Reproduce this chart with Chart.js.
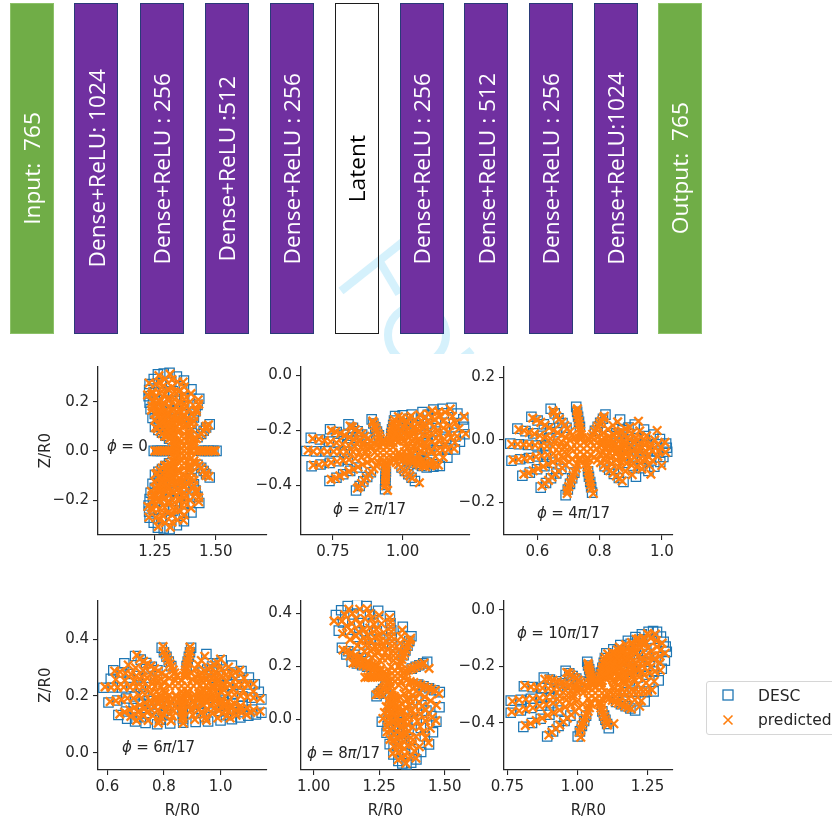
<!DOCTYPE html>
<html>
<head>
<meta charset="utf-8">
<title>Autoencoder and flux surfaces</title>
<script src="https://cdn.jsdelivr.net/npm/chart.js@4/dist/chart.umd.min.js"></script>
<style>
  html, body { margin: 0; padding: 0; background: #fff; width: 832px; height: 823px; overflow: hidden; }
  body { position: relative; font-family: "DejaVu Sans", sans-serif; color: #262626; }
  canvas { position: absolute; filter: blur(0.35px); }
  #mark { position: absolute; left: 0; top: 0; }
  .layer {
    position: absolute; top: 3px; height: 331px; width: 44px; box-sizing: border-box;
    display: flex; align-items: center; justify-content: center;
    color: #fff; font: 22.7px "Open Sans", sans-serif; white-space: pre;
    background: #7030a0; border: 1.3px solid #2a3a78; filter: blur(0.3px);
  }
  .layer span { writing-mode: vertical-rl; transform: rotate(180deg); }
  .layer.io { background: #70ad47; border-color: #8cc168; }
  .layer.latent { background: transparent; border: 1.5px solid #1c1c1c; color: #000; }
  .note { position: absolute; font-size: 15px; white-space: nowrap; transform: translateY(-50%); letter-spacing: -0.2px; filter: blur(0.25px); }
  #legend {
    position: absolute; left: 706px; top: 681px; width: 140px; height: 54px; box-sizing: border-box;
    background: #fff; border: 1px solid #d6d6d6; border-radius: 3px; font-size: 15.5px; filter: blur(0.25px);
  }
  #legend svg { position: absolute; left: 14px; width: 14px; height: 14px; }
  #legend span { position: absolute; left: 51px; line-height: 18px; }
</style>
</head>
<body>
<svg id="mark" width="832" height="354">
  <g fill="none" stroke="#d5f1fc" stroke-width="8">
    <path d="M341 291 L404 241"/>
    <path d="M380 262 L399 294"/>
    <circle cx="417" cy="335" r="29"/>
    <path d="M462 358 L472 350"/>
  </g>
</svg>
<div class="layer io" style="left:9.5px"><span>Input:  765</span></div>
<div class="layer" style="left:74px"><span>Dense+ReLU: 1024</span></div>
<div class="layer" style="left:139.5px"><span>Dense+ReLU : 256</span></div>
<div class="layer" style="left:204.5px"><span>Dense+ReLU :512</span></div>
<div class="layer" style="left:269.5px"><span>Dense+ReLU : 256</span></div>
<div class="layer latent" style="left:334.5px"><span>Latent</span></div>
<div class="layer" style="left:399.5px"><span>Dense+ReLU : 256</span></div>
<div class="layer" style="left:464px"><span>Dense+ReLU : 512</span></div>
<div class="layer" style="left:528.5px"><span>Dense+ReLU : 256</span></div>
<div class="layer" style="left:593.5px"><span>Dense+ReLU:1024</span></div>
<div class="layer io" style="left:657.5px"><span>Output:  765</span></div>

<div class="note" style="left:107px;top:446px"><i>ϕ</i> = 0</div>
<div class="note" style="left:333px;top:509px"><i>ϕ</i> = 2<i>π</i>/17</div>
<div class="note" style="left:537px;top:513px"><i>ϕ</i> = 4<i>π</i>/17</div>
<div class="note" style="left:122px;top:747px"><i>ϕ</i> = 6<i>π</i>/17</div>
<div class="note" style="left:307px;top:753px"><i>ϕ</i> = 8<i>π</i>/17</div>
<div class="note" style="left:517px;top:633px"><i>ϕ</i> = 10<i>π</i>/17</div>

<div id="legend">
  <svg style="top:6px" viewBox="0 0 14 14"><rect x="2" y="2" width="10" height="10" fill="none" stroke="#1f77b4" stroke-width="1.3"/></svg>
  <span style="top:5px">DESC</span>
  <svg style="top:31px" viewBox="0 0 14 14"><path d="M2.5 2.5 L11.5 11.5 M11.5 2.5 L2.5 11.5" stroke="#ff7f0e" stroke-width="1.6"/></svg>
  <span style="top:29px">predicted</span>
</div>

<script>
// phi = 0
const descR0 = [
  1.503,1.49,1.47,1.455,1.44, 1.475,1.46,1.45,1.44,1.425, 1.432,1.425,1.417,1.41,1.40, 1.369,1.369,1.37,1.37,1.37,
  1.31,1.317,1.324,1.332,1.339, 1.262,1.275,1.288,1.30,1.314, 1.228,1.245,1.262,1.279,1.296, 1.224,1.242,1.259,1.277,1.294,
  1.232,1.249,1.265,1.282,1.298, 1.25,1.264,1.279,1.293,1.308, 1.245,1.26,1.275,1.29,1.305,
  1.475,1.46,1.45,1.44,1.425, 1.432,1.425,1.417,1.41,1.40, 1.369,1.369,1.37,1.37,1.37,
  1.31,1.317,1.324,1.332,1.339, 1.262,1.275,1.288,1.30,1.314, 1.228,1.245,1.262,1.279,1.296, 1.224,1.242,1.259,1.277,1.294,
  1.232,1.249,1.265,1.282,1.298, 1.25,1.264,1.279,1.293,1.308,
  1.40,1.34,1.286,1.245,1.226,1.228,1.24, 1.40,1.34,1.286,1.245,1.226,1.228,1.24,
];
const descZ0 = [
  0,0,0,0,0, .108,.095,.082,.069,.056, .212,.187,.161,.136,.11, .286,.252,.217,.183,.149,
  .318,.28,.242,.204,.165, .312,.275,.237,.20,.162, .272,.239,.207,.174,.141, .222,.195,.169,.142,.115,
  .17,.15,.129,.109,.088, .097,.085,.074,.062,.05, 0,0,0,0,0,
  -.108,-.095,-.082,-.069,-.056, -.212,-.187,-.161,-.136,-.11, -.286,-.252,-.217,-.183,-.149,
  -.318,-.28,-.242,-.204,-.165, -.312,-.275,-.237,-.20,-.162, -.272,-.239,-.207,-.174,-.141, -.222,-.195,-.169,-.142,-.115,
  -.17,-.15,-.129,-.109,-.088, -.097,-.085,-.074,-.062,-.05,
  .25,.302,.315,.292,.247,.196,.134, -.25,-.302,-.315,-.292,-.247,-.196,-.134,
];
const predR0 = [
  1.497,1.49,1.48,1.47,1.46,1.45,1.44,1.43,1.42,1.40, 1.47,1.46,1.46,1.45,1.44,1.43,1.42,1.41,1.41,1.40,
  1.428,1.43,1.42,1.42,1.41,1.41,1.40,1.40,1.39,1.39, 1.366,1.37,1.37,1.37,1.37,1.37,1.37,1.37,1.37,1.37,
  1.312,1.32,1.32,1.33,1.33,1.34,1.34,1.35,1.35,1.35, 1.266,1.27,1.28,1.29,1.30,1.31,1.32,1.32,1.33,1.34,
  1.226,1.24,1.25,1.27,1.28,1.29,1.30,1.31,1.32,1.33, 1.22,1.24,1.25,1.26,1.27,1.29,1.30,1.31,1.32,1.33,
  1.236,1.25,1.26,1.27,1.28,1.29,1.30,1.31,1.32,1.33, 1.252,1.26,1.27,1.28,1.29,1.30,1.31,1.32,1.33,1.34,
  1.25,1.26,1.27,1.28,1.29,1.30,1.31,1.32,1.33,1.34,
  1.472,1.46,1.46,1.45,1.44,1.43,1.42,1.41,1.41,1.40, 1.43,1.43,1.42,1.42,1.41,1.41,1.40,1.40,1.39,1.39,
  1.367,1.37,1.37,1.37,1.37,1.37,1.37,1.37,1.37,1.37, 1.313,1.32,1.32,1.33,1.33,1.34,1.34,1.35,1.35,1.35,
  1.263,1.27,1.28,1.29,1.30,1.31,1.32,1.32,1.33,1.34, 1.225,1.24,1.25,1.27,1.28,1.29,1.30,1.31,1.32,1.33,
  1.221,1.24,1.25,1.26,1.27,1.29,1.30,1.31,1.32,1.33, 1.235,1.25,1.26,1.27,1.28,1.29,1.30,1.31,1.32,1.33,
  1.253,1.26,1.27,1.28,1.29,1.30,1.31,1.32,1.33,1.34,
  1.37,1.35,1.39,1.37,1.37,1.35,1.39,1.35,1.39,1.33,1.41,1.36,1.38,1.36,1.38,
  1.398,1.394,1.39,1.386,1.382, 1.342,1.346,1.35,1.354,1.358, 1.292,1.303,1.314,1.325,1.336, 1.254,1.27,1.286,1.303,1.319,
  1.236,1.255,1.274,1.292,1.311, 1.238,1.256,1.275,1.293,1.312, 1.249,1.266,1.283,1.30,1.317,
  1.398,1.394,1.39,1.386,1.382, 1.342,1.346,1.35,1.354,1.358, 1.292,1.303,1.314,1.325,1.336, 1.254,1.27,1.286,1.303,1.319,
  1.236,1.255,1.274,1.292,1.311, 1.238,1.256,1.275,1.293,1.312, 1.249,1.266,1.283,1.30,1.317,
];
const predZ0 = [
  0,0,0,0,0,0,0,0,0,0, .106,.10,.09,.08,.07,.06,.05,.05,.04,.03,
  .208,.19,.17,.16,.14,.12,.11,.09,.07,.06, .28,.26,.23,.21,.19,.17,.14,.12,.10,.07,
  .312,.29,.26,.24,.21,.18,.16,.13,.11,.08, .306,.28,.26,.23,.21,.18,.16,.13,.11,.08,
  .276,.24,.22,.20,.18,.16,.14,.11,.09,.07, .228,.20,.18,.16,.15,.13,.11,.09,.08,.06,
  .166,.15,.14,.13,.11,.10,.09,.07,.06,.04, .095,.09,.08,.07,.06,.06,.05,.04,.03,.03,
  0,0,0,0,0,0,0,0,0,0,
  -.104,-.10,-.09,-.08,-.07,-.06,-.05,-.05,-.04,-.03, -.207,-.19,-.17,-.16,-.14,-.12,-.11,-.09,-.07,-.06,
  -.282,-.26,-.23,-.21,-.19,-.17,-.14,-.12,-.10,-.07, -.31,-.29,-.26,-.24,-.21,-.18,-.16,-.13,-.11,-.08,
  -.308,-.28,-.26,-.23,-.21,-.18,-.16,-.13,-.11,-.08, -.27,-.24,-.22,-.20,-.18,-.16,-.14,-.11,-.09,-.07,
  -.226,-.20,-.18,-.16,-.15,-.13,-.11,-.09,-.08,-.06, -.164,-.15,-.14,-.13,-.11,-.10,-.09,-.07,-.06,-.04,
  -.094,-.09,-.08,-.07,-.06,-.06,-.05,-.04,-.03,-.03,
  0,0,0,.02,-.02,.02,.02,-.02,-.02,.03,.03,-.04,-.04,.04,.04,
  .233,.20,.168,.135,.103, .281,.242,.202,.163,.124, .293,.252,.211,.17,.129, .272,.234,.196,.158,.12,
  .23,.198,.165,.133,.101, .182,.157,.131,.106,.08, .125,.107,.09,.072,.055,
  -.233,-.20,-.168,-.135,-.103, -.281,-.242,-.202,-.163,-.124, -.293,-.252,-.211,-.17,-.129, -.272,-.234,-.196,-.158,-.12,
  -.23,-.198,-.165,-.133,-.101, -.182,-.157,-.131,-.106,-.08, -.125,-.107,-.09,-.072,-.055,
];

// phi = 2pi/17
const descR1 = [
  .655,.69,.724,.759,.793, .671,.704,.736,.769,.802, .674,.706,.739,.771,.803, .738,.763,.787,.812,.836,
  .74,.764,.789,.813,.837, .806,.822,.839,.855,.872, .833,.846,.859,.873,.886, .889,.895,.902,.908,.915,
  .937,.938,.938,.939,.94, .973,.969,.966,.962,.959, 1.044,1.032,1.02,1.008,.996, 1.032,1.021,1.011,1.0,.989,
  1.11,1.09,1.07,1.05,1.03, 1.175,1.147,1.119,1.091,1.064, 1.217,1.184,1.151,1.118,1.085, 1.223,1.189,1.156,1.122,1.089,
  1.187,1.158,1.128,1.099,1.07, 1.133,1.11,1.087,1.065,1.042, 1.086,1.069,1.052,1.035,1.017,
  1.071,1.143,1.196,1.22,1.205,1.16,1.11,1.0,
];
const descZ1 = [
  -.275,-.276,-.276,-.277,-.278, -.227,-.233,-.24,-.246,-.253, -.33,-.324,-.318,-.312,-.306, -.384,-.372,-.359,-.347,-.335,
  -.196,-.206,-.216,-.227,-.237, -.178,-.19,-.203,-.215,-.227, -.418,-.402,-.385,-.369,-.352, -.16,-.175,-.189,-.204,-.218,
  -.414,-.398,-.382,-.366,-.35, -.148,-.164,-.18,-.196,-.212, -.384,-.372,-.359,-.347,-.335, -.142,-.159,-.175,-.192,-.209,
  -.124,-.143,-.162,-.181,-.199, -.118,-.138,-.157,-.177,-.196, -.16,-.175,-.189,-.204,-.218, -.214,-.222,-.23,-.238,-.246,
  -.269,-.27,-.272,-.273,-.275, -.329,-.323,-.317,-.312,-.306, -.335,-.329,-.322,-.316,-.309,
  -.133,-.121,-.139,-.187,-.241,-.299,-.332,-.145,
];
const predR1 = [
  .662,.68,.707,.73,.753,.776,.799,.822,.845,.868, .678,.70,.72,.742,.763,.785,.807,.829,.85,.872,
  .68,.70,.722,.744,.765,.787,.808,.83,.852,.873, .744,.76,.775,.791,.808,.824,.84,.857,.873,.89,
  .745,.76,.777,.793,.809,.825,.842,.858,.874,.89, .812,.82,.83,.842,.853,.864,.875,.885,.896,.907,
  .838,.844,.853,.862,.87,.879,.888,.897,.906,.914, .893,.894,.899,.903,.907,.912,.916,.92,.925,.929,
  .946,.938,.938,.939,.939,.94,.94,.94,.941,.941, .985,.97,.968,.965,.963,.96,.958,.956,.953,.951,
  1.06,1.034,1.026,1.018,1.01,1.002,.994,.985,.977,.969, 1.03,1.023,1.016,1.009,1.002,.995,.987,.98,.973,.966,
  1.106,1.093,1.08,1.067,1.053,1.04,1.027,1.013,1.0,.986, 1.17,1.152,1.133,1.115,1.096,1.078,1.059,1.04,1.022,1.003,
  1.22,1.19,1.168,1.146,1.124,1.102,1.08,1.058,1.036,1.014, 1.226,1.195,1.173,1.15,1.128,1.105,1.083,1.06,1.038,1.016,
  1.184,1.163,1.143,1.124,1.104,1.085,1.065,1.045,1.026,1.006, 1.128,1.114,1.099,1.084,1.068,1.053,1.038,1.023,1.008,.992,
  1.082,1.072,1.06,1.049,1.037,1.026,1.015,1.003,.992,.98,
  .943,.92,.966,.943,.943,.92,.966,.92,.966,.90,.986,.93,.955,.93,.955,
  1.062,1.045,1.029,1.012,.995, 1.129,1.103,1.077,1.051,1.025, 1.178,1.145,1.113,1.08,1.047, 1.201,1.165,1.129,1.093,1.057,
  1.187,1.153,1.119,1.084,1.05, 1.145,1.117,1.088,1.06,1.032, 1.098,1.077,1.055,1.033,1.011, .996,.989,.981,.974,.966,
];
const predZ1 = [
  -.272,-.276,-.276,-.277,-.277,-.277,-.278,-.278,-.279,-.279, -.23,-.232,-.237,-.241,-.245,-.25,-.254,-.258,-.262,-.267,
  -.326,-.325,-.321,-.317,-.313,-.309,-.306,-.302,-.298,-.294, -.378,-.374,-.365,-.357,-.349,-.341,-.333,-.324,-.316,-.308,
  -.20,-.205,-.211,-.218,-.225,-.232,-.238,-.245,-.252,-.259, -.184,-.188,-.197,-.205,-.213,-.221,-.23,-.238,-.246,-.254,
  -.41,-.404,-.393,-.382,-.371,-.36,-.35,-.339,-.328,-.317, -.166,-.172,-.182,-.191,-.201,-.211,-.22,-.23,-.24,-.25,
  -.418,-.401,-.39,-.38,-.369,-.358,-.348,-.337,-.326,-.316, -.15,-.161,-.172,-.182,-.193,-.204,-.214,-.225,-.236,-.246,
  -.39,-.374,-.365,-.357,-.349,-.341,-.333,-.324,-.316,-.308, -.148,-.156,-.167,-.178,-.189,-.2,-.212,-.223,-.234,-.245,
  -.128,-.14,-.152,-.165,-.177,-.19,-.202,-.215,-.228,-.24, -.122,-.134,-.147,-.16,-.173,-.187,-.2,-.213,-.226,-.239,
  -.15,-.172,-.182,-.191,-.201,-.211,-.22,-.23,-.24,-.25, -.212,-.221,-.226,-.231,-.237,-.242,-.248,-.253,-.258,-.264,
  -.266,-.27,-.271,-.272,-.273,-.274,-.275,-.276,-.277,-.278, -.326,-.324,-.32,-.316,-.313,-.309,-.305,-.301,-.297,-.293,
  -.332,-.33,-.325,-.321,-.317,-.312,-.308,-.304,-.299,-.295,
  -.281,-.281,-.281,-.26,-.30,-.26,-.26,-.30,-.30,-.28,-.28,-.245,-.245,-.315,-.315,
  -.143,-.163,-.182,-.201,-.22, -.132,-.153,-.174,-.195,-.215, -.149,-.167,-.186,-.204,-.223, -.194,-.206,-.218,-.23,-.242,
  -.244,-.249,-.254,-.259,-.265, -.298,-.295,-.293,-.291,-.288, -.328,-.322,-.315,-.309,-.302, -.155,-.172,-.19,-.208,-.225,
];

// phi = 4pi/17
const descR2 = [
  .513,.541,.57,.598,.626, .517,.545,.573,.601,.628, .536,.562,.587,.613,.638, .581,.601,.621,.641,.662,
  .552,.576,.599,.623,.647, .611,.628,.644,.661,.677, .643,.656,.668,.681,.694, .725,.728,.731,.734,.737,
  .691,.698,.705,.712,.719, .776,.773,.77,.766,.763, .819,.811,.802,.794,.785, .877,.862,.846,.831,.816,
  .913,.893,.874,.854,.834, .957,.932,.907,.882,.857, .973,.946,.919,.892,.865, .995,.965,.936,.906,.877,
  1.014,.982,.95,.919,.887, 1.018,.986,.953,.921,.889,
  .866,.943,.994,1.005,.976,.917,1.016,
];
const descZ2 = [
  -.012,-.014,-.016,-.018,-.02, -.067,-.062,-.058,-.053,-.048, .036,.028,.021,.013,.005, .074,.062,.05,.037,.025,
  -.115,-.105,-.094,-.084,-.073, -.153,-.138,-.123,-.108,-.093, .10,.085,.069,.054,.039, .106,.09,.074,.058,.042,
  -.177,-.159,-.141,-.123,-.105, -.169,-.152,-.135,-.118,-.101, .081,.068,.055,.042,.029, -.135,-.122,-.109,-.096,-.084,
  .049,.04,.031,.021,.012, -.10,-.091,-.083,-.074,-.065, .017,.012,.006,.001,-.005, -.071,-.066,-.061,-.056,-.05,
  -.012,-.014,-.016,-.018,-.02, -.038,-.037,-.036,-.034,-.033,
  .065,.033,.003,-.055,-.086,-.118,-.025,
];
const predR2 = [
  .518,.537,.556,.574,.593,.612,.631,.65,.669,.688, .522,.54,.559,.577,.596,.614,.633,.652,.67,.689,
  .541,.557,.574,.591,.608,.625,.642,.66,.677,.694, .585,.598,.611,.625,.638,.652,.665,.678,.692,.705,
  .557,.572,.587,.603,.619,.635,.65,.666,.682,.698, .615,.625,.636,.647,.658,.669,.68,.691,.702,.713,
  .65,.654,.662,.671,.679,.688,.696,.705,.713,.721, .729,.727,.729,.731,.733,.735,.737,.739,.741,.743,
  .696,.697,.701,.706,.711,.715,.72,.725,.729,.734, .78,.773,.771,.769,.767,.765,.763,.76,.758,.756,
  .815,.812,.806,.801,.795,.79,.784,.778,.773,.767, .873,.864,.854,.844,.833,.823,.813,.803,.793,.782,
  .925,.897,.883,.87,.857,.844,.831,.818,.805,.792, .965,.936,.92,.903,.886,.87,.853,.836,.82,.803,
  .985,.951,.933,.915,.897,.879,.861,.843,.825,.807, 1.0,.97,.951,.931,.911,.892,.872,.852,.833,.813,
  1.01,.987,.966,.945,.924,.903,.882,.86,.839,.818, 1.012,.991,.97,.948,.926,.905,.883,.862,.84,.819,
  .749,.727,.771,.749,.749,.727,.771,.727,.771,.71,.79,.735,.765,.735,.765,
  .858,.843,.827,.812,.797, .929,.904,.879,.854,.829, .977,.945,.913,.881,.849, .987,.954,.921,.887,.854,
  .96,.931,.901,.872,.842, .905,.883,.862,.84,.818, .997,.963,.928,.893,.858,
];
const predZ2 = [
  -.014,-.014,-.015,-.016,-.017,-.019,-.02,-.021,-.023,-.024, -.064,-.063,-.06,-.057,-.054,-.051,-.048,-.044,-.041,-.038,
  .033,.03,.024,.019,.014,.009,.004,-.001,-.006,-.011, .07,.064,.056,.047,.039,.031,.023,.015,.007,-.001,
  -.11,-.106,-.099,-.092,-.085,-.078,-.071,-.065,-.058,-.051, -.148,-.14,-.13,-.12,-.11,-.1,-.09,-.08,-.07,-.061,
  .094,.087,.077,.067,.056,.046,.036,.026,.016,.005, .10,.093,.082,.071,.06,.05,.039,.028,.017,.007,
  -.172,-.162,-.15,-.138,-.126,-.114,-.103,-.091,-.079,-.067, -.172,-.155,-.144,-.132,-.121,-.11,-.099,-.087,-.076,-.065,
  .076,.07,.061,.053,.044,.035,.027,.018,.009,0, -.132,-.124,-.116,-.107,-.099,-.09,-.082,-.073,-.064,-.056,
  .06,.041,.035,.029,.023,.017,.011,.004,-.002,-.008, -.11,-.093,-.087,-.081,-.075,-.07,-.064,-.058,-.052,-.047,
  .03,.013,.009,.005,.002,-.002,-.006,-.009,-.013,-.016, -.082,-.067,-.063,-.06,-.056,-.053,-.05,-.046,-.043,-.039,
  -.008,-.014,-.015,-.016,-.017,-.019,-.02,-.021,-.023,-.024, -.04,-.037,-.036,-.035,-.035,-.034,-.033,-.032,-.031,-.031,
  -.028,-.028,-.028,-.008,-.048,-.008,-.008,-.048,-.048,-.028,-.028,.005,.005,-.06,-.06,
  .058,.046,.034,.022,.01, .029,.021,.013,.005,-.003, 0,-.003,-.007,-.011,-.015, -.053,-.05,-.046,-.043,-.039,
  -.082,-.074,-.067,-.059,-.052, -.112,-.10,-.088,-.077,-.065, -.025,-.026,-.026,-.026,-.027,
];

// phi = 6pi/17
const descR3 = [
  .586,.619,.652,.685,.718, .604,.635,.666,.697,.728, .639,.666,.693,.719,.746, .621,.65,.679,.708,.737,
  .698,.718,.737,.757,.777, .698,.718,.737,.757,.777, .776,.786,.797,.807,.817, .792,.80,.809,.817,.826,
  .868,.867,.867,.866,.865, .896,.892,.888,.884,.88, .956,.945,.933,.922,.911, 1.004,.987,.97,.953,.936,
  1.04,1.019,.997,.976,.955, 1.074,1.049,1.023,.998,.972, 1.098,1.07,1.041,1.013,.985, 1.121,1.09,1.059,1.028,.997,
  1.145,1.111,1.077,1.043,1.009, 1.145,1.111,1.077,1.043,1.009,
  .95,1.04,1.10,1.135,1.125,1.07,1.0,.67,.735,.822,.912,.66,.612,
];
const descZ3 = [
  .229,.23,.23,.231,.232, .177,.184,.191,.198,.205, .133,.145,.157,.170,.182, .29,.283,.277,.27,.264,
  .341,.328,.316,.303,.29, .11,.125,.14,.155,.17, .10,.116,.132,.149,.165, .37,.354,.338,.321,.305,
  .106,.121,.137,.152,.168, .37,.354,.338,.321,.305, .11,.125,.14,.155,.17, .326,.315,.304,.293,.282,
  .118,.132,.146,.160,.174, .288,.282,.275,.269,.263, .13,.143,.155,.168,.18, .241,.24,.24,.239,.238,
  .188,.194,.199,.205,.211, .141,.152,.164,.175,.186,
  .348,.307,.265,.215,.135,.124,.114,.12,.105,.103,.108,.315,.26,
];
const predR3 = [
  .592,.613,.636,.658,.68,.702,.724,.746,.768,.79, .61,.63,.65,.671,.692,.712,.733,.754,.774,.795,
  .644,.661,.679,.697,.715,.733,.751,.768,.786,.804, .626,.645,.664,.684,.703,.722,.741,.761,.78,.799,
  .704,.714,.728,.741,.754,.767,.78,.793,.806,.819, .703,.714,.728,.741,.754,.767,.78,.793,.806,.819,
  .78,.785,.791,.798,.805,.812,.819,.826,.833,.84, .797,.799,.805,.81,.816,.821,.827,.833,.838,.844,
  .868,.867,.867,.866,.866,.865,.865,.865,.864,.864, .892,.893,.89,.887,.884,.882,.879,.876,.874,.871,
  .95,.947,.939,.932,.924,.917,.909,.902,.894,.886, 1.0,.99,.978,.967,.956,.944,.933,.922,.91,.899,
  1.034,1.022,1.008,.994,.979,.965,.951,.937,.923,.908, 1.068,1.053,1.036,1.019,1.002,.985,.968,.951,.934,.917,
  1.092,1.074,1.056,1.037,1.018,.999,.98,.961,.942,.923, 1.116,1.095,1.074,1.054,1.033,1.012,.992,.971,.95,.929,
  1.14,1.117,1.094,1.071,1.049,1.026,1.004,.981,.958,.936, 1.14,1.117,1.094,1.071,1.049,1.026,1.004,.981,.958,.936,
  .862,.84,.884,.862,.862,.84,.884,.84,.884,.82,.905,.845,.88,.845,.88,
  .944,.932,.921,.91,.898, 1.028,1.004,.981,.958,.935, 1.083,1.052,1.021,.991,.96, 1.116,1.08,1.045,1.009,.974,
  1.107,1.072,1.038,1.004,.97, 1.055,1.028,1.001,.974,.947, .99,.972,.954,.937,.919, .683,.708,.733,.758,.783,
  .744,.76,.777,.793,.81, .825,.83,.835,.84,.846, .909,.902,.896,.889,.883, .674,.70,.727,.753,.779, .63,.662,.695,.727,.76,
];
const predZ3 = [
  .232,.23,.23,.231,.231,.232,.232,.232,.233,.233, .18,.183,.187,.192,.192,.201,.206,.21,.215,.22,
  .136,.143,.151,.16,.168,.176,.184,.192,.2,.208, .288,.285,.28,.276,.271,.267,.263,.258,.254,.249,
  .344,.33,.322,.313,.305,.296,.288,.28,.271,.263, .114,.123,.132,.142,.153,.162,.172,.183,.193,.203,
  .104,.114,.124,.135,.146,.157,.168,.178,.189,.2, .374,.357,.346,.335,.324,.313,.303,.292,.281,.27,
  .104,.119,.129,.14,.15,.16,.171,.181,.191,.201, .372,.357,.346,.335,.324,.313,.303,.292,.281,.27,
  .114,.123,.132,.142,.153,.162,.172,.183,.193,.203, .33,.317,.31,.302,.295,.288,.281,.273,.266,.259,
  .122,.13,.139,.148,.158,.167,.177,.186,.195,.205, .29,.283,.278,.274,.27,.266,.262,.257,.253,.249,
  .134,.14,.149,.157,.166,.174,.183,.191,.199,.208, .242,.24,.24,.239,.239,.238,.238,.238,.237,.237,
  .19,.193,.196,.20,.204,.208,.212,.215,.219,.223, .146,.15,.158,.165,.173,.18,.188,.196,.203,.211,
  .235,.235,.235,.255,.215,.255,.215,.255,.215,.235,.235,.27,.27,.20,.20,
  .34,.325,.311,.296,.281, .302,.293,.283,.274,.265, .263,.259,.255,.251,.247, .216,.219,.222,.224,.227,
  .142,.155,.168,.181,.194, .132,.146,.161,.175,.189, .122,.138,.154,.17,.185, .128,.143,.158,.173,.188,
  .114,.131,.148,.165,.182, .112,.129,.147,.164,.181, .117,.133,.15,.166,.183, .309,.299,.289,.278,.268, .258,.255,.252,.249,.245,
];

// phi = 8pi/17
const descR4 = [
  1.13,1.152,1.173,1.195,1.216, 1.202,1.215,1.228,1.241,1.254, 1.085,1.112,1.139,1.166,1.193, 1.291,1.293,1.296,1.298,1.30,
  1.373,1.365,1.358,1.35,1.343, 1.108,1.132,1.156,1.181,1.205, 1.145,1.165,1.185,1.204,1.224, 1.433,1.418,1.403,1.389,1.374,
  1.481,1.46,1.44,1.419,1.399, 1.24,1.248,1.257,1.265,1.274, 1.468,1.449,1.43,1.411,1.392, 1.278,1.282,1.286,1.29,1.293,
  1.44,1.424,1.409,1.393,1.378, 1.304,1.305,1.305,1.306,1.307, 1.323,1.321,1.32,1.318,1.317, 1.354,1.349,1.343,1.338,1.333,
  1.392,1.382,1.372,1.362,1.353,
  1.166,1.105,1.246,1.096,1.125,1.34,1.455,1.41,1.372,1.338,1.29,1.26,1.48,
];
const descZ4 = [
  .428,.396,.364,.333,.301, .428,.396,.364,.333,.301, .394,.366,.339,.311,.283, .39,.363,.336,.308,.281,
  .314,.296,.278,.26,.242, .27,.257,.244,.231,.219, .217,.211,.204,.198,.191, .217,.211,.204,.198,.191,
  .102,.109,.117,.124,.131, .087,.096,.105,.114,.123, -.01,.011,.032,.052,.073, -.052,-.026,0,.025,.051,
  -.096,-.065,-.034,-.003,.028, -.134,-.098,-.063,-.027,.009, -.159,-.12,-.082,-.043,-.004, -.172,-.132,-.092,-.051,-.011,
  -.153,-.115,-.077,-.039,-.001,
  .435,.412,.41,.335,.245,.35,-.05,-.125,-.165,-.168,-.095,-.01,.045,
];
const predR4 = [
  1.134,1.148,1.162,1.177,1.191,1.206,1.22,1.234,1.249,1.263, 1.204,1.213,1.221,1.23,1.239,1.247,1.256,1.265,1.273,1.282,
  1.078,1.108,1.126,1.143,1.162,1.18,1.198,1.216,1.234,1.252, 1.29,1.293,1.294,1.296,1.297,1.299,1.30,1.302,1.304,1.305,
  1.37,1.367,1.362,1.357,1.352,1.347,1.342,1.336,1.331,1.326, 1.112,1.128,1.144,1.16,1.177,1.193,1.209,1.225,1.241,1.257,
  1.15,1.162,1.175,1.188,1.201,1.214,1.228,1.241,1.254,1.267, 1.196,1.207,1.217,1.226,1.235,1.244,1.253,1.262,1.271,1.28,
  1.44,1.421,1.411,1.401,1.391,1.381,1.372,1.362,1.352,1.342, 1.478,1.464,1.45,1.437,1.423,1.409,1.396,1.382,1.368,1.354,
  1.238,1.247,1.253,1.258,1.264,1.269,1.275,1.281,1.286,1.292, 1.466,1.452,1.44,1.427,1.414,1.402,1.389,1.376,1.364,1.351,
  1.28,1.281,1.284,1.286,1.289,1.291,1.294,1.297,1.299,1.302, 1.438,1.427,1.417,1.406,1.396,1.385,1.375,1.365,1.354,1.344,
  1.302,1.305,1.305,1.306,1.306,1.307,1.307,1.307,1.308,1.308, 1.322,1.322,1.321,1.32,1.319,1.318,1.316,1.315,1.314,1.313,
  1.352,1.35,1.346,1.343,1.339,1.336,1.332,1.328,1.325,1.321, 1.39,1.384,1.376,1.371,1.364,1.358,1.351,1.344,1.338,1.331,
  1.31,1.288,1.332,1.31,1.31,1.288,1.332,1.288,1.332,1.27,1.35,1.295,1.325,1.295,1.325,
  1.176,1.195,1.214,1.232,1.251, 1.119,1.146,1.173,1.199,1.226, 1.25,1.259,1.267,1.275,1.284, 1.111,1.139,1.167,1.194,1.222,
  1.138,1.162,1.186,1.21,1.234, 1.338,1.334,1.33,1.326,1.322, 1.445,1.426,1.407,1.388,1.369, 1.403,1.39,1.377,1.364,1.351,
  1.368,1.36,1.352,1.343,1.335, 1.336,1.332,1.329,1.325,1.321, 1.291,1.294,1.297,1.299,1.302, 1.264,1.27,1.277,1.283,1.29,
  1.468,1.446,1.424,1.402,1.38,
];
const predZ4 = [
  .416,.40,.38,.359,.339,.317,.296,.274,.253,.232, .418,.40,.38,.359,.339,.317,.296,.274,.253,.232,
  .372,.371,.352,.334,.315,.297,.279,.26,.242,.223, .384,.367,.349,.331,.313,.295,.277,.258,.24,.222,
  .306,.299,.287,.275,.263,.251,.239,.226,.214,.202, .262,.259,.251,.242,.234,.225,.217,.208,.199,.191,
  .212,.212,.207,.203,.199,.194,.19,.186,.181,.177, .158,.159,.159,.159,.16,.16,.161,.161,.161,.162,
  .192,.212,.207,.203,.199,.194,.19,.186,.181,.177, .096,.108,.113,.118,.123,.128,.133,.138,.142,.147,
  .092,.095,.101,.107,.113,.119,.125,.131,.137,.143, -.006,.007,.021,.035,.049,.063,.077,.09,.104,.118,
  -.048,-.03,-.013,.004,.021,.038,.056,.073,.09,.107, -.09,-.07,-.049,-.029,-.008,.013,.033,.054,.075,.096,
  -.13,-.104,-.08,-.057,-.033,-.009,.015,.038,.062,.086, -.154,-.127,-.101,-.075,-.049,-.024,.002,.028,.054,.079,
  -.168,-.139,-.112,-.085,-.058,-.031,-.005,.022,.049,.076, -.148,-.121,-.096,-.071,-.046,-.02,.005,.03,.055,.081,
  .163,.163,.163,.183,.143,.183,.143,.143,.183,.163,.163,.198,.128,.128,.198,
  .416,.381,.345,.31,.275, .395,.362,.33,.297,.265, .393,.361,.328,.296,.264, .323,.301,.278,.256,.234,
  .239,.229,.218,.207,.197, .337,.313,.288,.264,.24, -.035,-.007,.02,.048,.076, -.105,-.067,-.03,.007,.045,
  -.142,-.099,-.057,-.014,.029, -.145,-.102,-.059,-.016,.027, -.077,-.043,-.01,.024,.057, .002,.025,.047,.07,.092,
  .053,.069,.084,.099,.115,
];

// phi = 10pi/17
const descR5 = [
  .762,.798,.834,.871,.907, .762,.798,.834,.871,.907, .809,.84,.87,.901,.931, .807,.838,.869,.90,.93,
  .88,.902,.924,.946,.968, .892,.913,.933,.954,.975, .958,.971,.983,.996,1.009, 1.001,1.009,1.016,1.024,1.031,
  1.035,1.038,1.042,1.045,1.049, 1.112,1.106,1.10,1.095,1.089, 1.103,1.098,1.094,1.089,1.084, 1.206,1.189,1.172,1.155,1.138,
  1.153,1.142,1.132,1.121,1.11, 1.272,1.247,1.222,1.197,1.172, 1.207,1.19,1.173,1.156,1.138, 1.254,1.231,1.208,1.186,1.163,
  1.284,1.258,1.231,1.205,1.178, 1.308,1.279,1.249,1.22,1.191, 1.319,1.288,1.258,1.227,1.197, 1.301,1.273,1.244,1.216,1.187,
  1.128,1.18,1.23,1.27,1.298,1.315,1.312,1.29,1.24,
];
const descZ5 = [
  -.322,-.319,-.315,-.312,-.309, -.365,-.357,-.348,-.34,-.331, -.271,-.274,-.277,-.28,-.283, -.415,-.401,-.386,-.372,-.357,
  -.24,-.247,-.253,-.26,-.266, -.449,-.431,-.412,-.394,-.375, -.216,-.225,-.235,-.244,-.254, -.449,-.431,-.412,-.394,-.375,
  -.184,-.197,-.211,-.224,-.237, -.42,-.405,-.39,-.375,-.36, -.154,-.171,-.188,-.205,-.222, -.357,-.35,-.342,-.335,-.327,
  -.125,-.145,-.166,-.186,-.207, -.289,-.29,-.29,-.291,-.292, -.096,-.12,-.144,-.168,-.192, -.078,-.104,-.13,-.156,-.182,
  -.078,-.104,-.13,-.156,-.182, -.113,-.135,-.157,-.179,-.20, -.149,-.167,-.184,-.202,-.219, -.209,-.219,-.23,-.24,-.25,
  -.14,-.11,-.087,-.075,-.095,-.13,-.18,-.25,-.325,
];
const predR5 = [
  .768,.792,.816,.841,.865,.889,.913,.937,.961,.985, .766,.792,.816,.841,.865,.889,.913,.937,.961,.985,
  .812,.834,.855,.875,.896,.916,.936,.957,.977,.998, .814,.833,.853,.874,.894,.915,.936,.956,.977,.997,
  .884,.898,.913,.928,.943,.957,.972,.987,1.001,1.016, .898,.909,.923,.937,.95,.964,.978,.992,1.005,1.019,
  .962,.969,.977,.986,.994,1.003,1.011,1.019,1.028,1.036, 1.012,1.007,1.012,1.017,1.022,1.027,1.033,1.038,1.043,1.048,
  1.038,1.038,1.04,1.043,1.045,1.047,1.05,1.052,1.054,1.056, 1.13,1.107,1.103,1.10,1.096,1.092,1.088,1.084,1.08,1.076,
  1.108,1.099,1.096,1.093,1.09,1.087,1.084,1.08,1.077,1.074, 1.222,1.192,1.18,1.169,1.157,1.146,1.135,1.124,1.112,1.101,
  1.15,1.144,1.137,1.13,1.123,1.116,1.109,1.101,1.094,1.087, 1.266,1.251,1.235,1.218,1.201,1.185,1.168,1.151,1.135,1.118,
  1.21,1.193,1.181,1.17,1.158,1.147,1.136,1.124,1.113,1.101, 1.25,1.235,1.22,1.205,1.19,1.174,1.159,1.144,1.129,1.113,
  1.278,1.262,1.244,1.227,1.209,1.192,1.174,1.156,1.139,1.121, 1.302,1.284,1.264,1.245,1.225,1.206,1.186,1.166,1.147,1.127,
  1.313,1.294,1.273,1.253,1.232,1.212,1.192,1.171,1.151,1.13, 1.296,1.277,1.258,1.239,1.22,1.201,1.182,1.164,1.145,1.126,
  1.064,1.04,1.088,1.064,1.064,1.04,1.088,1.04,1.088,1.02,1.105,1.045,1.085,1.045,1.085,
  1.124,1.115,1.107,1.099,1.09, 1.172,1.157,1.142,1.127,1.112, 1.218,1.197,1.175,1.154,1.132, 1.256,1.229,1.202,1.175,1.148,
  1.282,1.251,1.221,1.19,1.16, 1.297,1.265,1.232,1.20,1.167, 1.295,1.262,1.23,1.198,1.166, 1.274,1.245,1.215,1.186,1.157,
  1.228,1.205,1.182,1.159,1.136,
];
const predZ5 = [
  -.324,-.319,-.317,-.315,-.313,-.311,-.309,-.306,-.304,-.302, -.362,-.358,-.352,-.347,-.341,-.336,-.33,-.324,-.319,-.313,
  -.268,-.273,-.275,-.277,-.279,-.281,-.283,-.285,-.287,-.289, -.41,-.403,-.393,-.384,-.374,-.365,-.355,-.345,-.336,-.326,
  -.246,-.245,-.25,-.254,-.259,-.263,-.267,-.272,-.276,-.281, -.444,-.434,-.421,-.409,-.397,-.384,-.372,-.36,-.347,-.335,
  -.222,-.224,-.23,-.237,-.243,-.249,-.256,-.262,-.268,-.274, -.452,-.434,-.421,-.409,-.397,-.384,-.372,-.36,-.347,-.335,
  -.19,-.195,-.204,-.213,-.222,-.231,-.24,-.248,-.257,-.266, -.404,-.408,-.398,-.388,-.378,-.368,-.358,-.348,-.338,-.328,
  -.156,-.168,-.179,-.19,-.202,-.213,-.225,-.236,-.247,-.258, -.342,-.351,-.346,-.341,-.336,-.331,-.326,-.321,-.316,-.311,
  -.132,-.142,-.156,-.169,-.183,-.196,-.21,-.224,-.237,-.251, -.284,-.29,-.29,-.291,-.291,-.292,-.292,-.292,-.293,-.293,
  -.104,-.116,-.132,-.148,-.164,-.18,-.196,-.211,-.227,-.243, -.084,-.10,-.117,-.134,-.152,-.169,-.186,-.204,-.221,-.239,
  -.086,-.10,-.117,-.134,-.152,-.169,-.186,-.204,-.221,-.239, -.118,-.131,-.146,-.16,-.175,-.189,-.204,-.219,-.233,-.248,
  -.154,-.164,-.175,-.187,-.199,-.21,-.222,-.234,-.245,-.257, -.214,-.218,-.224,-.231,-.238,-.245,-.252,-.259,-.266,-.273,
  -.295,-.295,-.295,-.275,-.315,-.275,-.275,-.315,-.315,-.295,-.295,-.26,-.26,-.33,-.33,
  -.151,-.171,-.191,-.211,-.231, -.123,-.147,-.171,-.195,-.219, -.102,-.129,-.156,-.183,-.21, -.09,-.119,-.148,-.176,-.205,
  -.109,-.135,-.161,-.187,-.213, -.142,-.163,-.184,-.206,-.227, -.188,-.203,-.218,-.233,-.248, -.253,-.259,-.265,-.271,-.277,
  -.323,-.319,-.315,-.311,-.307,
];

// axis limits and ticks, one entry per panel
const xLimits = [[1.016, 1.709], [0.636, 1.24], [0.493, 1.035], [0.567, 1.163], [0.952, 1.595], [0.738, 1.34]];
const yLimits = [[-0.342, 0.344], [-0.58, 0.033], [-0.305, 0.236], [-0.061, 0.537], [-0.193, 0.45], [-0.568, 0.034]];
const xTicks = [[1.25, 1.5], [0.75, 1], [0.6, 0.8, 1], [0.6, 0.8, 1], [1, 1.25, 1.5], [0.75, 1, 1.25]];
const yTicks = [[-0.2, 0, 0.2], [-0.4, -0.2, 0], [-0.2, 0, 0.2], [0, 0.2, 0.4], [0, 0.2, 0.4], [-0.4, -0.2, 0]];
const xDecimals = [2, 2, 1, 1, 2, 2];
const allDescR = [descR0, descR1, descR2, descR3, descR4, descR5];
const allDescZ = [descZ0, descZ1, descZ2, descZ3, descZ4, descZ5];
const allPredR = [predR0, predR1, predR2, predR3, predR4, predR5];
const allPredZ = [predZ0, predZ1, predZ2, predZ3, predZ4, predZ5];

// where each plot area sits on the page
const boxes = [
  { left: 98, right: 267, top: 366, bottom: 535, axisW: 61, axisH: 25 },
  { left: 301, right: 470, top: 366, bottom: 535, axisW: 45, axisH: 25 },
  { left: 503.5, right: 672.5, top: 366, bottom: 535, axisW: 45, axisH: 25 },
  { left: 98, right: 267, top: 599.5, bottom: 769, axisW: 61, axisH: 50 },
  { left: 301, right: 470, top: 599.5, bottom: 769, axisW: 45, axisH: 50 },
  { left: 503.5, right: 672.5, top: 599.5, bottom: 769, axisW: 45, axisH: 50 },
];

const INK = '#262626';
const PAD = 8;
const fontSpec = { family: '"DejaVu Sans", sans-serif', size: 15 };
const toPoints = (rs, zs) => rs.map((r, i) => ({ x: r, y: zs[i] }));
const fmt = (v, d) => v.toFixed(d).replace('-', '\u2212');

boxes.forEach((box, i) => {
  const canvas = document.createElement('canvas');
  const width = box.axisW + (box.right - box.left) + PAD;
  const height = PAD + (box.bottom - box.top) + box.axisH;
  canvas.width = Math.round(width);
  canvas.height = Math.round(height);
  canvas.style.left = (box.left - box.axisW) + 'px';
  canvas.style.top = (box.top - PAD) + 'px';
  document.body.appendChild(canvas);

  const axisBase = {
    type: 'linear',
    border: { color: INK, width: 1.3 },
    grid: { drawOnChartArea: false, color: INK, tickLength: 5, lineWidth: 1.1 },
  };

  new Chart(canvas.getContext('2d'), {
    type: 'scatter',
    data: {
      datasets: [
        {
          label: 'DESC',
          data: toPoints(allDescR[i], allDescZ[i]),
          pointStyle: 'rect',
          pointRadius: 6.6,
          pointBorderWidth: 1.25,
          pointBorderColor: '#1f77b4',
          pointBackgroundColor: 'rgba(0,0,0,0)',
          order: 2,
        },
        {
          label: 'predicted',
          data: toPoints(allPredR[i], allPredZ[i]),
          pointStyle: 'crossRot',
          pointRadius: 6,
          pointBorderWidth: 2.3,
          pointBorderColor: '#ff7f0e',
          order: 1,
        },
      ],
    },
    options: {
      responsive: false,
      animation: false,
      events: [],
      layout: { padding: { top: PAD, right: PAD, left: 0, bottom: 0 } },
      plugins: { legend: { display: false }, tooltip: { enabled: false } },
      scales: {
        x: {
          ...axisBase,
          min: xLimits[i][0],
          max: xLimits[i][1],
          afterBuildTicks: s => { s.ticks = xTicks[i].map(v => ({ value: v })); },
          afterFit: s => { s.height = box.axisH; s.paddingLeft = 0; s.paddingRight = 0; },
          ticks: { color: INK, font: fontSpec, padding: 3, maxRotation: 0, minRotation: 0, autoSkip: false, callback: v => fmt(v, xDecimals[i]) },
          title: { display: i >= 3, text: 'R/R0', color: INK, font: fontSpec, padding: 0 },
        },
        y: {
          ...axisBase,
          min: yLimits[i][0],
          max: yLimits[i][1],
          afterBuildTicks: s => { s.ticks = yTicks[i].map(v => ({ value: v })); },
          afterFit: s => { s.width = box.axisW; s.paddingTop = 0; s.paddingBottom = 0; },
          ticks: { color: INK, font: fontSpec, padding: 4, autoSkip: false, callback: v => fmt(v, 1) },
          title: { display: i === 0 || i === 3, text: 'Z/R0', color: INK, font: fontSpec, padding: 0 },
        },
      },
    },
  });
});
</script>
</body>
</html>
